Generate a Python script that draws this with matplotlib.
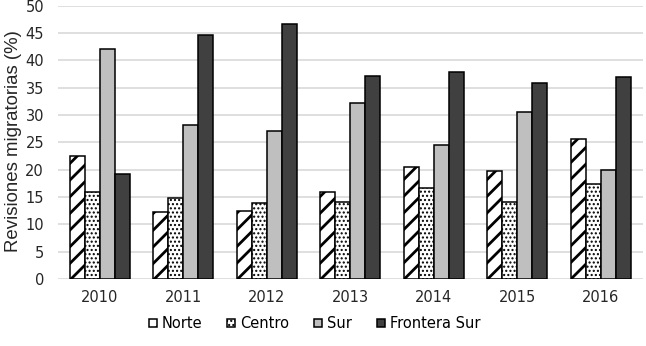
import matplotlib
matplotlib.use("Agg")
import matplotlib.pyplot as plt
import numpy as np

years = ["2010", "2011", "2012", "2013", "2014", "2015", "2016"]
norte = [22.5, 12.3, 12.5, 16.0, 20.4, 19.7, 25.6]
centro = [16.0, 14.8, 13.9, 14.1, 16.7, 14.1, 17.4]
sur = [42.0, 28.1, 27.0, 32.2, 24.6, 30.5, 20.0]
frontera = [19.3, 44.7, 46.6, 37.2, 37.9, 35.8, 37.0]
series_names = ["Norte", "Centro", "Sur", "Frontera Sur"]

plt.rcParams['font.family'] = ['DejaVu Sans']

fig = plt.figure(figsize=(6.46, 3.46), dpi=100)
ax = fig.add_axes([0.0898, 0.1936, 0.905, 0.79])

x = np.arange(len(years))
w = 0.18
styles = [
    dict(facecolor="white", hatch="//"),
    dict(facecolor="white", hatch="...."),
    dict(facecolor="#bfbfbf", hatch=None),
    dict(facecolor="#404040", hatch=None),
]
hatch_lw = [2.0, 1.0, 1.0, 1.0]
data = [norte, centro, sur, frontera]
for i, (vals, st, name) in enumerate(zip(data, styles, series_names)):
    plt.rcParams['hatch.linewidth'] = hatch_lw[i]
    bars = ax.bar(x + (i - 1.5) * w, vals, w, label=name, edgecolor="black",
                  linewidth=1.1, zorder=3, **st)
    for b in bars:
        if hasattr(b, "set_hatch_linewidth"):
            b.set_hatch_linewidth(hatch_lw[i])

ax.set_ylim(0, 50)
ax.set_yticks(range(0, 51, 5))
ax.set_xlim(-0.5, len(years) - 0.5)
ax.set_xticks(x)
ax.set_xticklabels(years)
ax.yaxis.grid(True, color="#d9d9d9", linewidth=1.2, zorder=0)
ax.set_axisbelow(True)
for s in ["top", "right", "left", "bottom"]:
    ax.spines[s].set_visible(False)
ax.tick_params(axis="both", length=0, labelsize=10.5, colors="#262626")
ax.tick_params(axis="y", pad=10)
ax.tick_params(axis="x", pad=8)
ax.set_ylabel("Revisiones migratorias (%)", family="Liberation Sans", fontsize=13.4,
              color="#262626")
ax.yaxis.set_label_coords(-0.061, 0.505)

leg = fig.legend(loc="lower center", bbox_to_anchor=(0.487, 0.005), ncol=4, frameon=False,
                 fontsize=10.5, handlelength=0.55, handleheight=0.55, handletextpad=0.35,
                 columnspacing=1.7)

fig.savefig("out.png", dpi=100)
